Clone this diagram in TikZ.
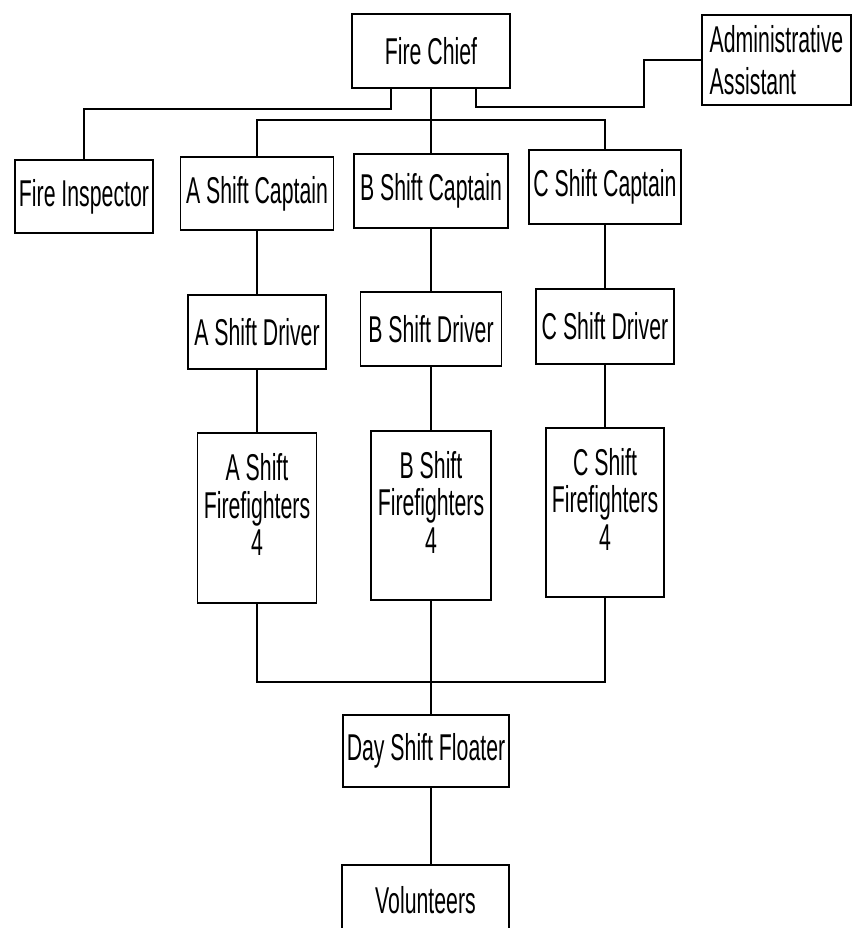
\documentclass[tikz,border=0pt]{standalone}
\usepackage{fontspec}
\newfontfamily\orgfont[FakeStretch=0.57]{Liberation Sans}
\newcommand{\orgtext}{\orgfont\fontsize{28}{28}\selectfont}

\begin{document}
\begin{tikzpicture}[x=0.75pt, y=-0.75pt,
  post/.style={draw, line width=1.4pt, inner sep=0pt, align=center, font=\orgtext},
  crew/.style={post, text depth=20pt},
  link/.style={line width=1.4pt}]
\useasboundingbox (0,0) rectangle (853,928);

% Top level
\node[post, minimum width=118.5pt, minimum height=55.5pt] (chief) at (431,51) {Fire Chief};
\node[post, minimum width=111.75pt, minimum height=67.5pt, align=left] (admin) at (776.5,60) {Administrative\\[4pt]Assistant};
\node[post, minimum width=103.5pt, minimum height=54.75pt] (insp) at (84,196.5) {Fire Inspector};

% Captains
\node[post, minimum width=114.75pt, minimum height=54.75pt] (capA) at (257,193.5) {A Shift Captain};
\node[post, minimum width=115.5pt, minimum height=55.5pt] (capB) at (431,191) {B Shift Captain};
\node[post, minimum width=114pt, minimum height=55.5pt] (capC) at (605,187) {C Shift Captain};

% Drivers
\node[post, minimum width=103.5pt, minimum height=55.5pt] (drvA) at (257,332) {A Shift Driver};
\node[post, minimum width=105.75pt, minimum height=55.5pt] (drvB) at (431,329) {B Shift Driver};
\node[post, minimum width=103.5pt, minimum height=56.25pt] (drvC) at (605,326.5) {C Shift Driver};

% Firefighters
\node[crew, minimum width=89.25pt, minimum height=127.5pt] (ffA) at (257,518) {A Shift\\Firefighters\\4};
\node[crew, minimum width=90pt, minimum height=126.75pt] (ffB) at (431,515.5) {B Shift\\Firefighters\\4};
\node[crew, minimum width=88.5pt, minimum height=126.75pt] (ffC) at (605,512.5) {C Shift\\Firefighters\\4};

% Bottom
\node[post, minimum width=124.5pt, minimum height=54pt] (float) at (426,751) {Day Shift Floater};
\node[post, minimum width=125.25pt, minimum height=52.5pt] (vol) at (425.5,900) {Volunteers};

% Lines from the chief
\draw[link] (chief.south) ++(-40,0) -- ++(0,20) -| (insp.north);
\draw[link] (chief.south) ++(45,0) -- ++(0,18) -- ++(168,0) |- (admin.west);
\coordinate (bar) at (431,120);
\draw[link] (chief.south) -- (capB.north);
\draw[link] (capA.north) |- (bar) -| (capC.north);

% Shift columns
\draw[link] (capA) -- (drvA) -- (ffA);
\draw[link] (capB) -- (drvB) -- (ffB);
\draw[link] (capC) -- (drvC) -- (ffC);

% Joining the shifts
\coordinate (low) at (431,682);
\draw[link] (ffA.south) |- (low) -| (ffC.south);
\draw[link] (ffB.south) -- (ffB.south |- float.north);
\draw[link] (ffB.south |- float.south) -- (ffB.south |- vol.north);
\end{tikzpicture}
\end{document}
